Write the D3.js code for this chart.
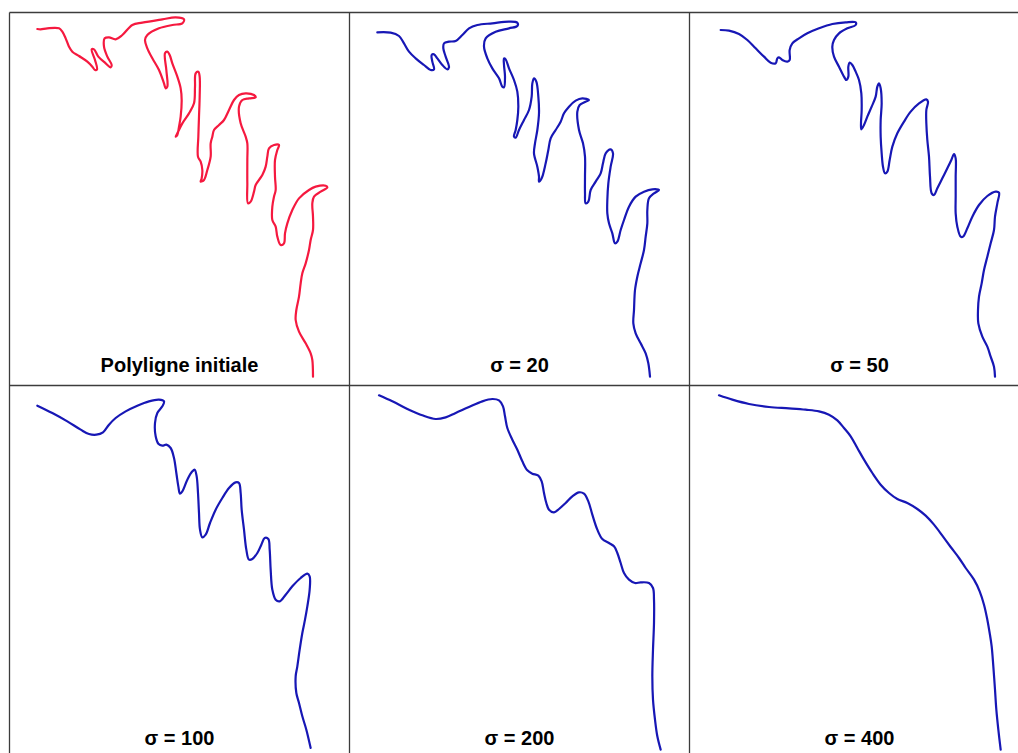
<!DOCTYPE html>
<html><head><meta charset="utf-8">
<script src="https://cdn.jsdelivr.net/npm/d3@7"></script>
<style>html,body{margin:0;padding:0;background:#fff;}svg{display:block;}</style>
</head><body>
<script>
// Shape coordinates (unitless, 1026 x 1116 units per panel)
const polyInitiale = [[85,57],[95,58],[115,55],[150,55],[160,65],[170,85],[180,110],[190,125],[210,138],[235,155],[250,170],[258,180],[264,178],[258,150],[248,118],[255,118],[268,140],[290,160],[305,172],[308,165],[295,140],[285,110],[287,85],[300,82],[320,88],[340,75],[370,45],[400,38],[460,28],[500,22],[525,28],[520,40],[490,45],[450,55],[415,75],[408,90],[415,115],[430,145],[450,180],[465,220],[470,235],[475,230],[472,180],[468,130],[475,125],[482,135],[490,160],[505,200],[515,235],[518,270],[515,320],[510,350],[505,375],[500,380],[505,370],[520,340],[540,310],[555,280],[558,230],[560,190],[568,185],[572,200],[572,260],[570,320],[568,380],[567,440],[575,455],[580,480],[578,505],[575,515],[585,510],[595,480],[605,440],[605,400],[610,380],[615,360],[630,345],[645,330],[660,300],[675,270],[690,255],[710,250],[735,255],[740,262],[720,265],[700,270],[690,290],[695,340],[710,380],[715,400],[715,450],[715,520],[717,580],[725,575],[735,545],[740,525],[760,495],[770,470],[775,440],[780,415],[795,405],[810,405],[805,420],[798,450],[798,500],[800,540],[795,560],[790,590],[790,630],[800,650],[805,680],[815,705],[825,700],[828,670],[835,640],[850,600],[870,565],[900,540],[920,530],[950,527],[955,532],[935,545],[915,560],[910,580],[912,620],[912,660],[905,690],[900,720],[890,760],[880,790],[875,820],[870,860],[862,900],[860,930],[870,965],[890,1000],[905,1030],[910,1050],[912,1100]];
const sigma20 = [[85,67],[125,68],[150,78],[165,100],[180,125],[200,145],[225,165],[245,180],[255,178],[250,155],[248,135],[255,133],[265,145],[280,165],[295,178],[300,172],[290,140],[283,115],[285,100],[300,95],[320,93],[340,75],[360,55],[385,45],[430,40],[480,35],[505,38],[505,48],[480,55],[440,65],[410,85],[405,110],[415,145],[430,175],[450,205],[460,230],[465,232],[468,200],[465,165],[465,145],[470,148],[480,175],[495,210],[505,245],[508,290],[505,330],[500,360],[495,380],[500,383],[510,360],[525,330],[540,300],[548,260],[550,220],[555,205],[562,215],[568,260],[570,310],[565,360],[558,400],[555,430],[565,470],[570,500],[570,515],[578,505],[590,460],[598,420],[605,385],[620,360],[635,335],[645,310],[660,290],[680,272],[700,265],[720,270],[710,275],[692,285],[685,305],[690,360],[702,400],[708,440],[708,500],[708,550],[710,580],[718,575],[725,540],[740,515],[755,490],[762,460],[770,430],[785,418],[792,430],[785,470],[778,520],[775,570],[775,610],[780,640],[790,670],[798,700],[805,695],[815,660],[825,630],[840,590],[860,560],[885,545],[910,538],[930,540],[915,550],[900,565],[895,600],[895,640],[890,680],[885,720],[875,760],[865,800],[858,840],[855,900],[853,940],[860,970],[875,1000],[890,1030],[898,1060],[903,1100]];
const sigma50 = [[95,60],[120,62],[150,72],[175,90],[200,115],[225,140],[245,158],[260,160],[265,145],[270,142],[280,150],[295,155],[302,150],[302,120],[310,100],[330,85],[355,70],[390,55],[430,42],[470,37],[500,37],[500,45],[475,55],[450,70],[435,90],[430,110],[435,140],[450,170],[465,200],[472,210],[478,200],[478,170],[482,158],[490,165],[500,185],[510,210],[517,250],[518,300],[516,340],[517,358],[525,345],[535,320],[548,290],[560,260],[565,230],[570,220],[575,235],[578,280],[575,330],[575,380],[578,430],[582,470],[588,490],[595,485],[602,450],[610,410],[625,370],[645,335],[665,305],[690,280],[712,268],[717,275],[712,300],[712,340],[715,390],[720,440],[723,500],[728,550],[735,555],[745,535],[760,505],[775,475],[787,450],[795,432],[800,445],[800,500],[800,560],[800,610],[805,650],[815,680],[822,680],[835,655],[850,620],[870,585],[895,558],[920,545],[930,548],[925,580],[918,620],[915,660],[905,700],[895,740],[885,780],[878,820],[870,860],[867,900],[868,940],[880,980],[895,1010],[905,1040],[915,1070],[918,1100]];
const sigma100 = [[85,68],[130,90],[175,115],[215,140],[240,153],[262,155],[282,148],[300,125],[320,105],[350,85],[385,68],[420,55],[450,50],[465,55],[460,70],[445,90],[438,120],[440,160],[448,182],[460,188],[472,185],[485,195],[495,225],[502,270],[508,310],[513,332],[520,325],[535,290],[550,265],[557,260],[563,280],[567,330],[570,390],[573,440],[580,463],[590,455],[603,420],[620,380],[640,345],[660,315],[680,298],[690,300],[695,330],[698,380],[705,440],[712,500],[720,530],[730,528],[745,510],[757,485],[767,465],[778,468],[782,500],[785,560],[790,620],[800,650],[812,655],[830,635],[850,610],[875,585],[895,572],[902,580],[902,620],[895,670],[888,710],[880,750],[872,800],[865,850],[860,880],[862,930],[870,960],[880,1000],[892,1040],[905,1095]];
const sigma200 = [[90,37],[130,55],[180,80],[220,97],[260,108],[290,103],[320,90],[360,72],[400,55],[430,48],[450,52],[462,70],[468,100],[475,135],[490,170],[505,200],[520,235],[535,262],[550,272],[568,278],[578,295],[585,330],[592,360],[600,380],[615,388],[630,378],[650,360],[670,340],[690,328],[705,332],[718,355],[730,395],[745,440],[760,468],[780,480],[795,490],[805,510],[815,540],[825,570],[840,590],[858,600],[875,598],[900,600],[912,615],[915,650],[915,720],[912,800],[910,880],[912,950],[918,1010],[925,1060],[935,1100]];
const sigma400 = [[90,37],[130,50],[180,63],[240,72],[300,76],[350,80],[390,85],[420,95],[445,112],[465,135],[485,160],[505,195],[525,230],[550,270],[575,305],[600,330],[625,348],[655,360],[685,378],[710,398],[735,425],[760,458],[785,492],[810,525],[830,555],[855,590],[872,625],[885,665],[895,710],[902,750],[908,790],[913,850],[918,920],[922,980],[928,1040],[935,1100]];
const labels = ["Polyligne initiale", "σ = 20", "σ = 50", "σ = 100", "σ = 200", "σ = 400"];
const seriesList = [polyInitiale, sigma20, sigma50, sigma100, sigma200, sigma400];

const W = 1018, H = 753;
const svg = d3.select("body").append("svg").attr("width", W).attr("height", H);
svg.append("rect").attr("width", W).attr("height", H).attr("fill", "#fff");

const colX = [9, 349, 689], rowY = [10, 383];
const cellX = [9.5, 349.5, 689.5], cellY = [12.5, 385.5], cellW = 340, cellH = 373;

seriesList.forEach((pts, i) => {
  const c = i % 3, r = Math.floor(i / 3);
  const x = d3.scaleLinear().domain([0, 1026]).range([colX[c], colX[c] + 342]);
  const y = d3.scaleLinear().domain([0, 1116]).range([rowY[r], rowY[r] + 372]);
  const line = d3.line().x(d => x(d[0])).y(d => y(d[1])).curve(d3.curveCatmullRom.alpha(0.5));
  svg.append("path").datum(pts).attr("d", line)
    .attr("fill", "none")
    .attr("stroke", i === 0 ? "#f5193f" : "#1717b5")
    .attr("stroke-width", 2.2)
    .attr("stroke-linejoin", "round").attr("stroke-linecap", "round");
  svg.append("text")
    .attr("x", cellX[c] + cellW / 2)
    .attr("y", cellY[r] + 359)
    .attr("text-anchor", "middle")
    .attr("font-family", "Liberation Sans, Arial, sans-serif")
    .attr("font-weight", "bold").attr("font-size", 20)
    .attr("fill", "#000")
    .text(labels[i]);
});

// grid frame
const frame = svg.append("g").attr("stroke", "#3c3c3c").attr("stroke-width", 1.3).attr("fill", "none");
frame.append("line").attr("x1", 9.5).attr("x2", 1020).attr("y1", 12.5).attr("y2", 12.5);
frame.append("line").attr("x1", 9.5).attr("x2", 1020).attr("y1", 385.5).attr("y2", 385.5);
frame.append("line").attr("x1", 9.5).attr("x2", 9.5).attr("y1", 12.5).attr("y2", 760);
frame.append("line").attr("x1", 349.5).attr("x2", 349.5).attr("y1", 12.5).attr("y2", 760);
frame.append("line").attr("x1", 689.5).attr("x2", 689.5).attr("y1", 12.5).attr("y2", 760);
</script>
</body></html>
